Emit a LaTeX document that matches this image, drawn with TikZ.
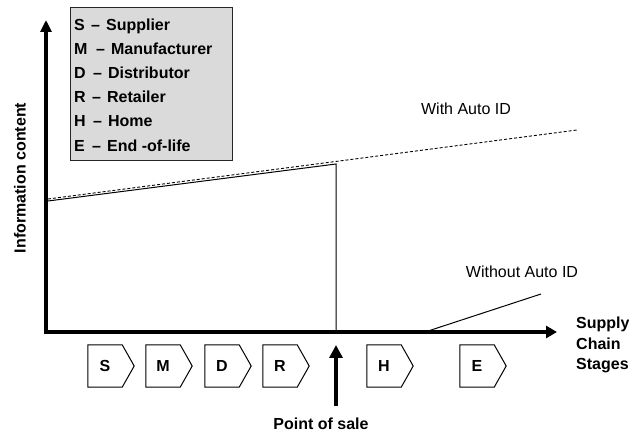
\documentclass[tikz,border=0pt]{standalone}
\usepackage{fontspec}
\setmainfont{Liberation Sans}
\usetikzlibrary{arrows.meta}
\definecolor{legendgray}{RGB}{218,218,218}
\begin{document}
\begin{tikzpicture}[x=1pt,y=-1pt,
  boldtext/.style={font=\fontsize{16}{19}\selectfont\bfseries, inner sep=0pt},
  plaintext/.style={font=\fontsize{16}{19}\selectfont, inner sep=0pt},
  legendline/.style={boldtext, anchor=base west},
  axis/.style={line width=4pt, line join=miter,
    {Triangle[length=12pt,width=11pt]}-{Triangle[length=11pt,width=12pt]}},
  thinline/.style={line width=1pt},
  dashline/.style={line width=0.9pt, dash pattern=on 3pt off 2pt},
  stagebody/.style={boldtext, minimum width=34pt, minimum height=42pt},
  stageline/.style={line width=1pt, line join=miter},
  salearrow/.style={line width=4.5pt, -{Triangle[length=13pt,width=13pt]}}]
\useasboundingbox (0,0) rectangle (629,435);
\fill[white] (0,0) rectangle (629,435);

% legend
\node[draw=black!85, line width=0.8pt, fill=legendgray, minimum width=162pt,
      minimum height=153pt, anchor=north west, inner sep=0pt] (legend) at (70,7) {};
\node[legendline] (lgS) at (74,30.2)  {\makebox[17pt][l]{S}–\hspace{6pt}Supplier};
\node[legendline] (lgM) at (74,54.4)  {\makebox[22pt][l]{M}–\hspace{6pt}Manufacturer};
\node[legendline] (lgD) at (74,78.6)  {\makebox[19pt][l]{D}–\hspace{6pt}Distributor};
\node[legendline] (lgR) at (74,102.8) {\makebox[18pt][l]{R}–\hspace{6pt}Retailer};
\node[legendline] (lgH) at (74,127.0) {\makebox[19pt][l]{H}–\hspace{6pt}Home};
\node[legendline] (lgE) at (74,151.2) {\makebox[18pt][l]{E}–\hspace{6pt}End -of-life};

% axes
\coordinate (ytop) at (46,20);
\coordinate (orig) at (46,332);
\coordinate (xend) at (557,332);
\draw[axis] (ytop) -- (orig) -- (xend);
\node[boldtext, rotate=90] (ylabel) at (20,178) {Information content};
\node[boldtext, align=left, anchor=north west,
      font=\fontsize{16}{20.5}\selectfont\bfseries] (xlabel) at (576,317) {Supply\\Chain\\Stages};

% information curves
\coordinate (wa0) at (48,199);
\coordinate (wa1) at (577,130);
\draw[dashline] (wa0) -- (wa1);
\coordinate (na0) at (48,201);
\coordinate (sale) at (336,164);
\coordinate (saleaxis) at (336,332);
\draw[thinline] (na0) -- (sale) -- (saleaxis);
\coordinate (wo0) at (425,332);
\coordinate (wo1) at (541,294);
\draw[thinline] (wo0) -- (wo1);
\node[plaintext] (withlbl) at (466,109) {With Auto ID};
\node[plaintext] (withoutlbl) at (522,272) {Without Auto ID};

% supply chain stages
\foreach \n/\c in {S/105, M/163, D/222, R/280, H/384, E/477}{
  \node[stagebody] (st\n) at (\c,366) {\n};
  \draw[stageline] (st\n.north west) -- (st\n.north east)
    -- ([xshift=12pt]st\n.east) -- (st\n.south east) -- (st\n.south west) -- cycle;
}

% point of sale
\coordinate (posbase) at (336,406);
\coordinate (postip) at (336,345);
\draw[salearrow] (posbase) -- (postip);
\node[boldtext] (pos) at (321,424) {Point of sale};
\end{tikzpicture}
\end{document}
